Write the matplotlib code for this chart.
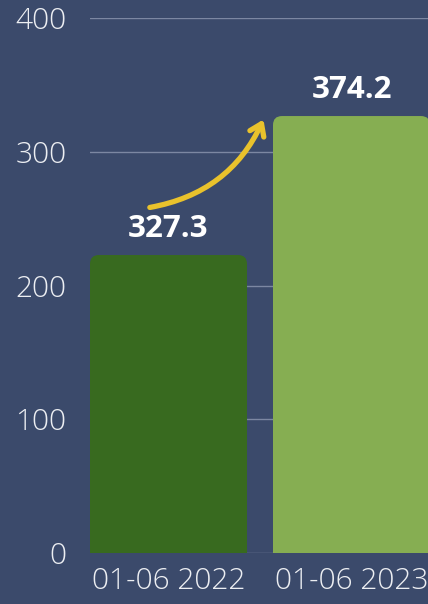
import matplotlib
matplotlib.use("Agg")
import matplotlib.pyplot as plt
from matplotlib.patches import FancyBboxPatch, FancyArrowPatch

# data
categories = ["01-06 2022", "01-06 2023"]
bar_heights = [222.8, 326.7]
value_labels = ["327.3", "374.2"]
bar_colors = ["#386a1f", "#86ae52"]
y_ticks = [0, 100, 200, 300, 400]

BG = "#3b4a6b"
GRID = "#7c87a2"
TEXT = "#eceef2"
ARROW = "#e9c22c"

plt.rcParams["font.family"] = ["Open Sans", "DejaVu Sans"]

fig = plt.figure(figsize=(4.28, 6.04), dpi=100, facecolor=BG)
ax = fig.add_axes([90 / 428, 51 / 604, 338 / 428, 535 / 604], facecolor=BG)

width = 0.858
ax.set_xlim(-width / 2, 1.418)
ax.set_ylim(0, 400)

# px -> data scale, used for rounded corners
px_x = 1.418 + width / 2
x_per_px = px_x / 338
y_per_px = 400 / 535
radius_px = 9

for i, (h, c) in enumerate(zip(bar_heights, bar_colors)):
    x0 = i - width / 2
    patch = FancyBboxPatch((x0, -30), width, h + 30,
                           boxstyle=f"round,pad=0,rounding_size={radius_px * x_per_px}",
                           mutation_aspect=y_per_px / x_per_px,
                           facecolor=c, edgecolor="none", zorder=3)
    ax.add_patch(patch)
    ax.annotate(value_labels[i], (i, h), xytext=(0, 19), textcoords="offset points",
                ha="center", va="center", color="white", fontsize=22.5,
                fontweight="bold", zorder=5)

for t in y_ticks:
    ax.axhline(t, color=GRID, lw=1, zorder=1)

arrow = FancyArrowPatch((-0.117, 258), (0.525, 326),
                        connectionstyle="arc3,rad=0.27",
                        arrowstyle="->,head_length=8,head_width=5.5",
                        color=ARROW, lw=3.8, zorder=6, capstyle="round",
                        joinstyle="round")
ax.add_patch(arrow)

ax.set_xticks(range(len(categories)))
ax.set_xticklabels(categories)
ax.set_yticks(y_ticks)
ax.set_yticklabels([str(t) for t in y_ticks])
ax.tick_params(axis="both", length=0, colors=TEXT, labelsize=21.5)
ax.tick_params(axis="x", pad=10)
ax.tick_params(axis="y", pad=17)
for lbl in ax.get_xticklabels() + ax.get_yticklabels():
    lbl.set_fontweight("light")
for s in ax.spines.values():
    s.set_visible(False)

fig.savefig("out.png", dpi=100, facecolor=BG)
